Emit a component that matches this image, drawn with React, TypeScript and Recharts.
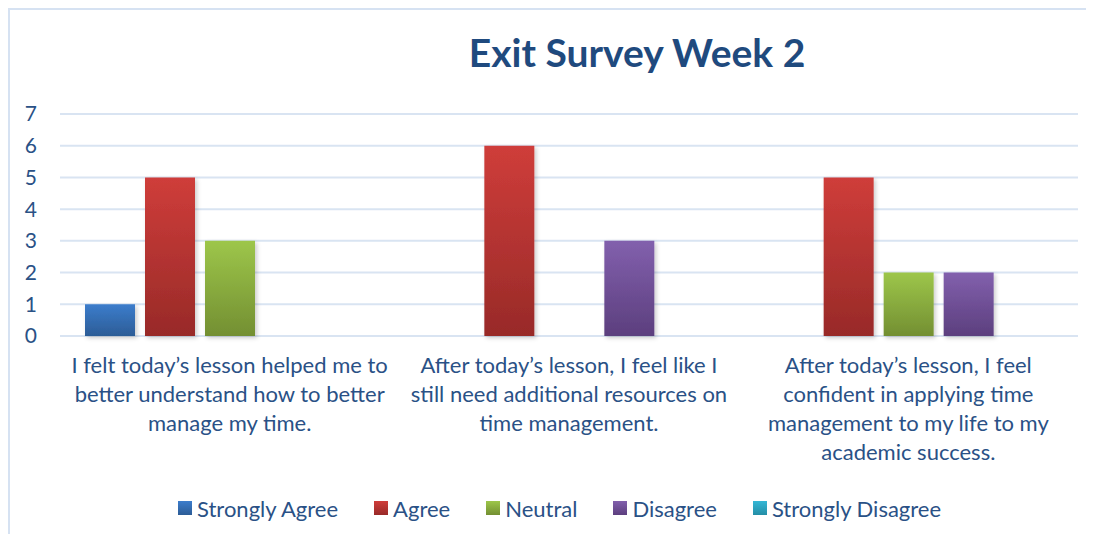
import React from "react";
import { BarChart, Bar, XAxis, YAxis, CartesianGrid, Legend } from "recharts";

const categories = [
  "I felt today’s lesson helped me to better understand how to better manage my time.",
  "After today’s lesson, I feel like I still need additional resources on time management.",
  "After today’s lesson, I feel confident in applying time management to my life to my academic success.",
];

// how each category label wraps in the original
const categoryLines = [
  ["I felt today’s lesson helped me to", "better understand how to better", "manage my time."],
  ["After today’s lesson, I feel like I", "still need additional resources on", "time management."],
  ["After today’s lesson, I feel", "confident in applying time", "management to my life to my", "academic success."],
];

const stronglyAgree = [1, 0, 0];
const agree = [5, 6, 5];
const neutral = [3, 0, 2];
const disagree = [0, 3, 2];
const stronglyDisagree = [0, 0, 0];

const yTicks = [0, 1, 2, 3, 4, 5, 6, 7];

const series = [
  { key: "stronglyAgree", name: "Strongly Agree", top: "#3C7DCC", bottom: "#2C5C96" },
  { key: "agree", name: "Agree", top: "#CF3D3A", bottom: "#982A28" },
  { key: "neutral", name: "Neutral", top: "#9DC64A", bottom: "#738F32" },
  { key: "disagree", name: "Disagree", top: "#8260AD", bottom: "#5C3F7E" },
  { key: "stronglyDisagree", name: "Strongly Disagree", top: "#35B7D6", bottom: "#248EA6" },
];

const data = categories.map((name, i) => ({
  name,
  stronglyAgree: stronglyAgree[i],
  agree: agree[i],
  neutral: neutral[i],
  disagree: disagree[i],
  stronglyDisagree: stronglyDisagree[i],
}));

const textColor = "#2A5186";
const font = "Lato, 'Open Sans', sans-serif";

function CategoryTick(props: any) {
  const { x, y, index } = props;
  const lines = categoryLines[index] || [];
  return (
    <text x={x} y={y} textAnchor="middle" fill={textColor} fontSize={22} fontFamily={font}>
      {lines.map((line, i) => (
        <tspan key={i} x={x} y={y + 37 + i * 29}>
          {line}
        </tspan>
      ))}
    </text>
  );
}

function LegendContent() {
  return (
    <div
      style={{
        display: "flex",
        alignItems: "center",
        height: 40,
        fontFamily: font,
        fontSize: 22,
        color: textColor,
        paddingLeft: 170,
      }}
    >
      {series.map((s) => (
        <div key={s.key} style={{ display: "flex", alignItems: "center", marginRight: 36 }}>
          <span
            style={{
              width: 14,
              height: 14,
              marginRight: 5,
              background: `linear-gradient(${s.top}, ${s.bottom})`,
              display: "inline-block",
            }}
          />
          <span>{s.name}</span>
        </div>
      ))}
    </div>
  );
}

export default function App() {
  return (
    <div
      style={{
        position: "relative",
        width: 1086,
        height: 526,
        borderTop: "2px solid #D6E2F2",
        borderLeft: "2px solid #D6E2F2",
        boxSizing: "border-box",
        background: "#fff",
      }}
    >
      <div
        style={{
          position: "absolute",
          top: 19,
          left: 627,
          transform: "translateX(-50%)",
          fontFamily: font,
          fontWeight: 700,
          fontSize: 39,
          color: "#1F4A7E",
          whiteSpace: "nowrap",
        }}
      >
        Exit Survey Week 2
      </div>
      <div style={{ position: "absolute", top: -2, left: -2 }}>
        <BarChart
          width={1086}
          height={520}
          data={data}
          margin={{ top: 106, right: 16, left: 0, bottom: 0 }}
          barSize={50}
          barGap={10}
        >
          <defs>
            {series.map((s) => (
              <linearGradient key={s.key} id={`grad-${s.key}`} x1="0" y1="0" x2="0" y2="1">
                <stop offset="0%" stopColor={s.top} />
                <stop offset="100%" stopColor={s.bottom} />
              </linearGradient>
            ))}
            <filter id="barShadow" x="-20%" y="-10%" width="140%" height="130%">
              <feDropShadow dx="2" dy="2" stdDeviation="2" floodColor="#000" floodOpacity="0.2" />
            </filter>
          </defs>
          <CartesianGrid horizontal vertical={false} stroke="#D9E4F2" strokeWidth={2} />
          <XAxis
            dataKey="name"
            axisLine={false}
            tickLine={false}
            tickSize={0}
            tickMargin={0}
            height={152}
            interval={0}
            tick={<CategoryTick />}
          />
          <YAxis
            domain={[0, 7]}
            ticks={yTicks}
            width={52}
            axisLine={false}
            tickLine={false}
            tickSize={0}
            tickMargin={23}
            tick={{ fill: textColor, fontSize: 21, fontFamily: font }}
          />
          <Legend verticalAlign="bottom" height={40} content={<LegendContent />} />
          {series.map((s) => (
            <Bar
              key={s.key}
              dataKey={s.key}
              name={s.name}
              fill={`url(#grad-${s.key})`}
              filter="url(#barShadow)"
              isAnimationActive={false}
            />
          ))}
        </BarChart>
      </div>
    </div>
  );
}
